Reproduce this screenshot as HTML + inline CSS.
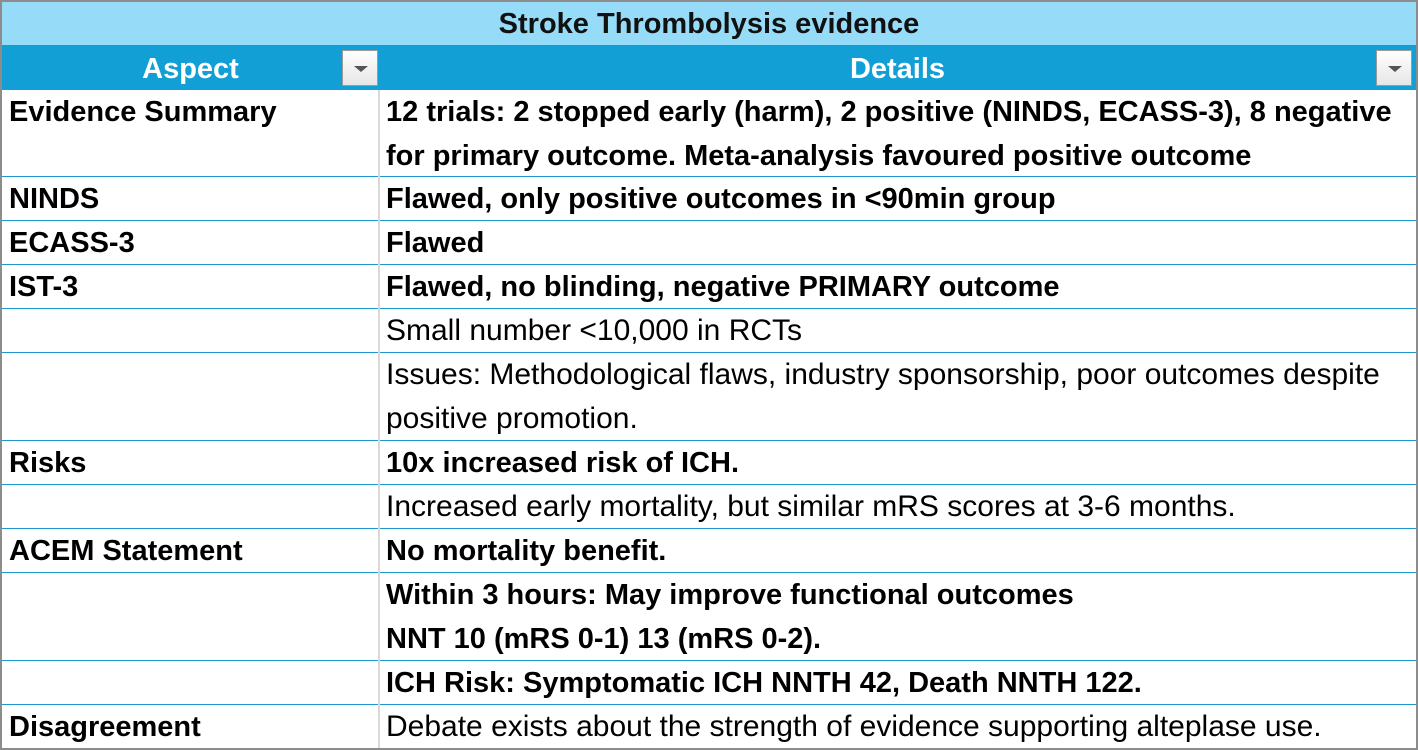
<!DOCTYPE html>
<html><head><meta charset="utf-8"><style>
*{margin:0;padding:0;box-sizing:border-box}
body{width:1418px;height:750px;background:#fff;font-family:"Liberation Sans",sans-serif;overflow:hidden;position:relative}
#frame{position:absolute;left:0;top:0;width:1418px;height:750px;border:2px solid #8c8c8c}
.title{position:absolute;left:2px;top:2px;width:1414px;height:43px;background:#96dcf8;color:#111;font-weight:bold;font-size:29px;text-align:center;line-height:45px}
.hdr{position:absolute;top:45px;height:45px;background:#129fd6;color:#fff;font-weight:bold;font-size:29px;text-align:center;line-height:48px}
.dd{position:absolute;top:5px;width:36px;height:36px;background:linear-gradient(#fff,#e6e6e6);border:1px solid #9a9a9a}
.dd:after{content:"";position:absolute;left:11px;top:15px;border-left:7px solid transparent;border-right:7px solid transparent;border-top:6px solid #555}
.row{position:absolute;left:2px;width:1414px;border-bottom:1px solid #1a9ad0}
.c1,.c2{position:absolute;top:0;font-size:30px;line-height:44px;color:#000;white-space:nowrap}
.c1{left:7px;font-weight:bold;font-size:29px}
.c2{left:384px;width:1030px}
.b{font-weight:bold;font-size:29px}
#div{position:absolute;left:378px;top:90px;width:2px;height:658px;background:#d9d9d9}
</style></head><body>
<div id="frame"></div>
<div class="title">Stroke Thrombolysis evidence</div>
<div class="hdr" style="left:2px;width:377px">Aspect<div class="dd" style="left:340px"></div></div>
<div class="hdr" style="left:379px;width:1037px">Details<div class="dd" style="left:997px"></div></div>

<div class="row" style="top:90px;height:87px"><div class="c1">Evidence Summary</div><div class="c2 b">12 trials: 2 stopped early (harm), 2 positive (NINDS, ECASS-3), 8 negative<br>for primary outcome. Meta-analysis favoured positive outcome</div></div>
<div class="row" style="top:177px;height:44px"><div class="c1">NINDS</div><div class="c2 b">Flawed, only positive outcomes in &lt;90min group</div></div>
<div class="row" style="top:221px;height:44px"><div class="c1">ECASS-3</div><div class="c2 b">Flawed</div></div>
<div class="row" style="top:265px;height:44px"><div class="c1">IST-3</div><div class="c2 b">Flawed, no blinding, negative PRIMARY outcome</div></div>
<div class="row" style="top:309px;height:44px"><div class="c2">Small number &lt;10,000 in RCTs</div></div>
<div class="row" style="top:353px;height:88px"><div class="c2">Issues: Methodological flaws, industry sponsorship, poor outcomes despite<br>positive promotion.</div></div>
<div class="row" style="top:441px;height:44px"><div class="c1">Risks</div><div class="c2 b">10x increased risk of ICH.</div></div>
<div class="row" style="top:485px;height:44px"><div class="c2">Increased early mortality, but similar mRS scores at 3-6 months.</div></div>
<div class="row" style="top:529px;height:44px"><div class="c1">ACEM Statement</div><div class="c2 b">No mortality benefit.</div></div>
<div class="row" style="top:573px;height:88px"><div class="c2 b">Within 3 hours: May improve functional outcomes<br>NNT 10 (mRS 0-1) 13 (mRS 0-2).</div></div>
<div class="row" style="top:661px;height:44px"><div class="c2 b">ICH Risk: Symptomatic ICH NNTH 42, Death NNTH 122.</div></div>
<div class="row" style="top:705px;height:43px;border-bottom:none"><div class="c1">Disagreement</div><div class="c2">Debate exists about the strength of evidence supporting alteplase use.</div></div>
<div id="div"></div>
</body></html>
